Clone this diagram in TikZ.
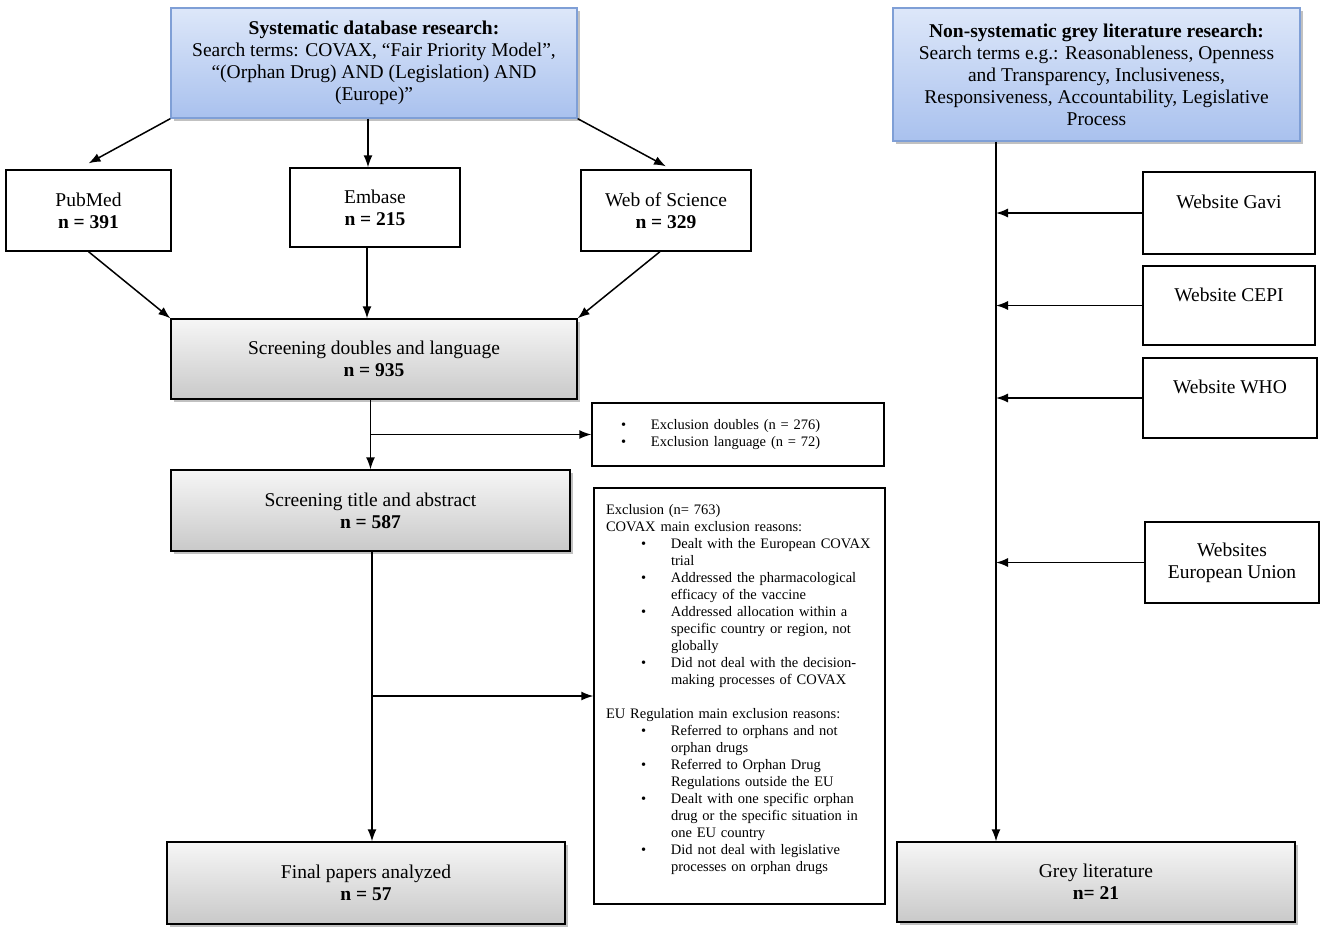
\documentclass[tikz,border=0pt]{standalone}
\usepackage{fontspec}
\setmainfont{Liberation Serif}
\usepackage{xcolor}
\usetikzlibrary{arrows.meta,positioning,shadows}

\definecolor{blueTop}{HTML}{DDE7F9}
\definecolor{blueBot}{HTML}{A9C1EE}
\definecolor{blueLine}{HTML}{7F9FD6}
\definecolor{greyTop}{HTML}{F6F6F6}
\definecolor{greyBot}{HTML}{C9C9C9}

% bullet lines for the exclusion boxes
\newcommand\bul[1][35pt]{\hspace*{#1}\makebox[30pt][l]{\textbullet}}
\newcommand\cont{\hspace*{65pt}}

\begin{document}
\begin{tikzpicture}[x=1pt,y=-1pt,
  box/.style={draw,line width=1.3pt,align=center,inner sep=0pt,
              font=\fontsize{19.5}{22}\selectfont},
  shade/.style={drop shadow={shadow xshift=3pt,shadow yshift=-3pt,
              opacity=.35,fill=black!70}},
  query/.style={box,shade,draw=blueLine,top color=blueTop,bottom color=blueBot},
  stage/.style={box,shade,top color=greyTop,bottom color=greyBot},
  note/.style={draw,line width=1.3pt,align=left,inner ysep=0pt,
              font=\fontsize{14.5}{17}\selectfont},
  arr/.style={-{Latex[length=12pt,width=9pt]},line width=1.5pt}
]
\useasboundingbox (0,0) rectangle (1325,935);

% systematic branch
\node[query,minimum width=406,minimum height=110] (sys) at (374,63)
  {\textbf{Systematic database research:}\\
   Search terms: COVAX, “Fair Priority Model”,\\
   “(Orphan Drug) AND (Legislation) AND\\(Europe)”};
\node[box,minimum width=165,minimum height=81] (pub) at (88.5,210.5) {PubMed\\\textbf{n = 391}};
\node[box,minimum width=170,minimum height=79] (emb) at (375,207.5) {Embase\\\textbf{n = 215}};
\node[box,minimum width=170,minimum height=81] (wos) at (666,210.5) {Web of Science\\\textbf{n = 329}};
\node[stage,minimum width=406,minimum height=80] (scrd) at (374,359)
  {Screening doubles and language\\\textbf{n = 935}};
\node[note,inner xsep=0pt,text width=292,minimum height=63] (exd) at (738,434.5)
  {\bul[29pt]Exclusion doubles (n = 276)\\
   \bul[29pt]Exclusion language (n = 72)};
\node[stage,minimum width=399,minimum height=81] (scrt) at (370.5,510.5)
  {Screening title and abstract\\\textbf{n = 587}};
\node[note,inner xsep=12pt,text width=267,minimum height=416] (exc) at (739.5,696)
  {Exclusion (n= 763)\\
   COVAX main exclusion reasons:\\
   \bul Dealt with the European COVAX\\\cont trial\\
   \bul Addressed the pharmacological\\\cont efficacy of the vaccine\\
   \bul Addressed allocation within a\\\cont specific country or region, not\\\cont globally\\
   \bul Did not deal with the decision-\\\cont making processes of COVAX\\[17pt]
   EU Regulation main exclusion reasons:\\
   \bul Referred to orphans and not\\\cont orphan drugs\\
   \bul Referred to Orphan Drug\\\cont Regulations outside the EU\\
   \bul Dealt with one specific orphan\\\cont drug or the specific situation in\\\cont one EU country\\
   \bul Did not deal with legislative\\\cont processes on orphan drugs\\~};
\node[stage,minimum width=398,minimum height=82] (fin) at (366,883)
  {Final papers analyzed\\\textbf{n = 57}};

% grey literature branch
\node[query,minimum width=407,minimum height=133] (grey) at (1096.5,74.5)
  {\textbf{Non-systematic grey literature research:}\\
   Search terms e.g.: Reasonableness, Openness\\
   and Transparency, Inclusiveness,\\
   Responsiveness, Accountability, Legislative\\Process};
\node[box,minimum width=172,minimum height=82] (gavi) at (1229,213) {Website Gavi\\~};
\node[box,minimum width=172,minimum height=79] (cepi) at (1229,305.5) {Website CEPI\\~};
\node[box,minimum width=174,minimum height=80] (who) at (1230,398) {Website WHO\\~};
\node[box,minimum width=174,minimum height=81] (eu) at (1232,562.5) {Websites\\European Union};
\node[stage,minimum width=398,minimum height=80] (lit) at (1096,882)
  {Grey literature\\\textbf{n= 21}};
\coordinate (spine) at ([xshift=-100pt]lit.north);

\draw[arr] (sys.south west) -- ([yshift=6pt]pub.north);
\draw[arr] ([xshift=-6pt]sys.south) -- ([xshift=-7pt]emb.north);
\draw[arr] (sys.south east) -- ([yshift=3pt]wos.north);
\draw[arr] (pub.south) -- (scrd.north west);
\draw[arr] ([xshift=-8pt]emb.south) -- ([xshift=-7pt]scrd.north);
\draw[arr] ([xshift=-6pt]wos.south) -- (scrd.north east);
\draw[arr] (scrd.south -| scrt.north) -- (scrt.north);
\draw[arr] (scrt.north |- exd.west) -- (exd.west);
\draw[arr] ([xshift=1.5pt]scrt.south) -- ([xshift=6pt]fin.north);
\draw[arr] ([xshift=6pt]fin.north |- exc.west) -- (exc.west);

\draw[arr] (grey.south -| spine) -- (spine);
\draw[arr] (gavi.west) -- (gavi.west -| spine);
\draw[arr] (cepi.west) -- (cepi.west -| spine);
\draw[arr] (who.west) -- (who.west -| spine);
\draw[arr] (eu.west) -- (eu.west -| spine);
\end{tikzpicture}
\end{document}
